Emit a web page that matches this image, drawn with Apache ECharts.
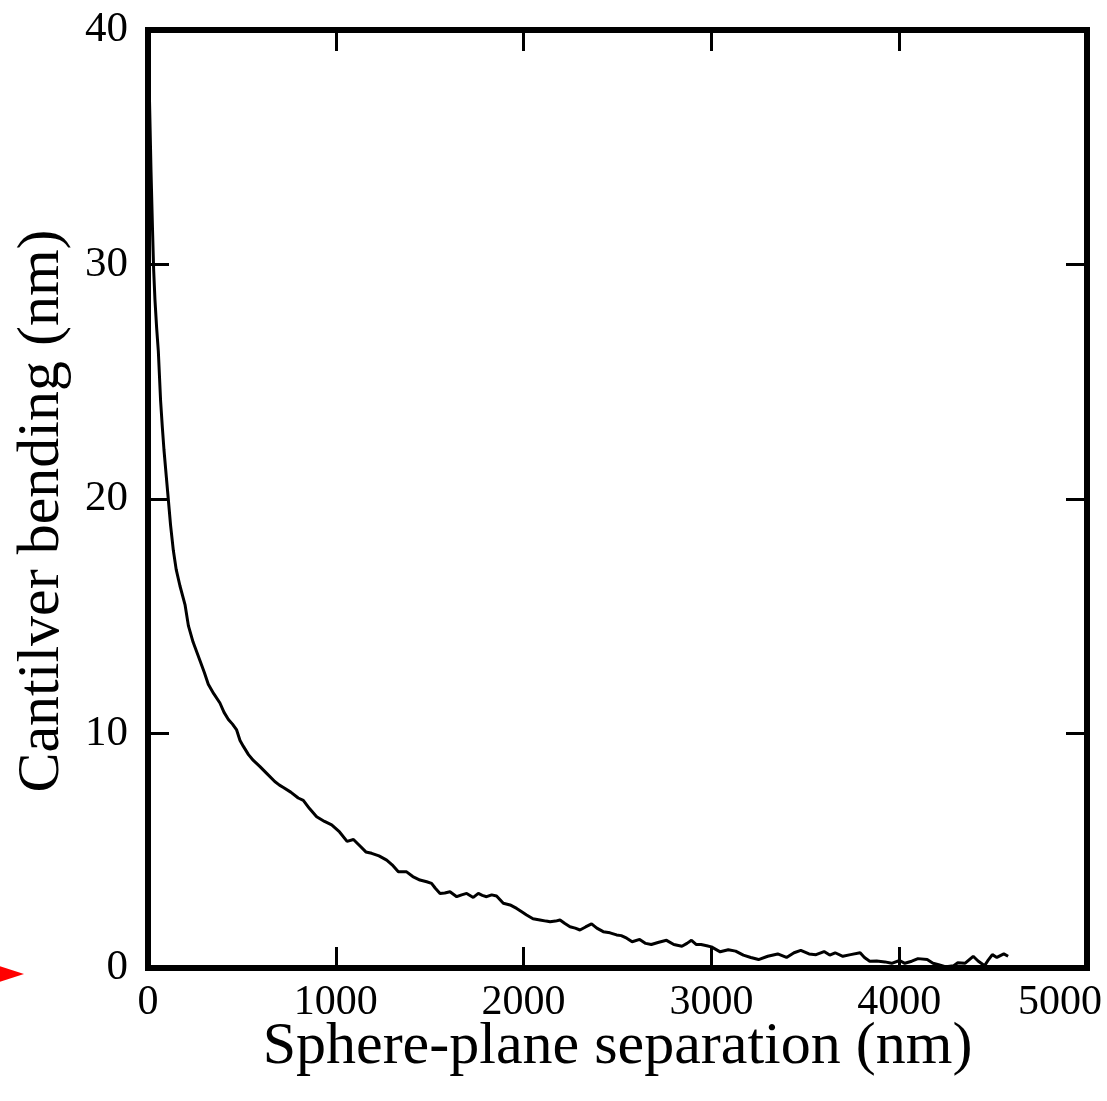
<!DOCTYPE html>
<html>
<head>
<meta charset="utf-8">
<script src="https://cdn.jsdelivr.net/npm/echarts@6/dist/echarts.min.js"></script>
<style>
  html, body { margin: 0; padding: 0; background: #ffffff; }
  #chart { width: 1107px; height: 1101px; }
</style>
</head>
<body>
<div id="chart"></div>
<script>
// Sphere-plane separation (nm)
const separation = [
  0, 8, 16, 24, 30, 37, 46, 55, 67, 76, 85, 97, 108, 120, 135, 150, 170, 197, 215, 240,
  277, 300, 321, 350, 383, 405, 428, 450, 472, 490, 508, 535, 561, 595, 632, 675, 700, 721,
  760, 800, 827, 860, 898, 940, 978, 1020, 1060, 1094, 1129, 1160, 1191, 1230, 1271, 1300,
  1333, 1377, 1410, 1448, 1484, 1510, 1530, 1555, 1580, 1608, 1644, 1670, 1697, 1732, 1759,
  1780, 1803, 1830, 1856, 1892, 1928, 1963, 1990, 2016, 2050, 2087, 2120, 2141, 2170, 2194,
  2220, 2247, 2275, 2300, 2330, 2362, 2390, 2424, 2460, 2495, 2520, 2549, 2578, 2618, 2650,
  2680, 2720, 2761, 2800, 2843, 2870, 2894, 2920, 2945, 2975, 3000, 3047, 3090, 3129, 3170,
  3210, 3251, 3300, 3353, 3400, 3440, 3476, 3520, 3557, 3600, 3630, 3659, 3700, 3741, 3792,
  3815, 3843, 3880, 3924, 3960, 4002, 4030, 4067, 4100, 4149, 4180, 4210, 4250, 4290, 4312,
  4350, 4394, 4420, 4455, 4475, 4496, 4520, 4557, 4580
];
// Cantilever bending (nm)
const bending = [
  40, 37, 34, 31.5, 29.8, 28.5, 27.3, 26.3, 24.2, 23.1, 22.1, 21, 20, 18.9, 17.8, 17.0, 16.3, 15.5, 14.6, 13.9,
  13.1, 12.6, 12.1, 11.7, 11.3, 10.9, 10.6, 10.4, 10.15, 9.7, 9.45, 9.1, 8.85, 8.6, 8.3, 7.95, 7.8, 7.7,
  7.5, 7.25, 7.15, 6.8, 6.45, 6.25, 6.1, 5.8, 5.4, 5.48, 5.2, 4.95, 4.89, 4.78, 4.6, 4.4,
  4.1, 4.1, 3.9, 3.75, 3.68, 3.61, 3.4, 3.18, 3.2, 3.25, 3.04, 3.12, 3.18, 3.01, 3.18,
  3.1, 3.04, 3.12, 3.07, 2.76, 2.69, 2.54, 2.4, 2.26, 2.1, 2.05, 2.0, 1.97, 2.0, 2.05,
  1.9, 1.76, 1.7, 1.62, 1.75, 1.88, 1.7, 1.55, 1.5, 1.41, 1.38, 1.27, 1.12, 1.22, 1.05,
  1.0, 1.1, 1.18, 1.0, 0.93, 1.05, 1.18, 1.0, 1.0, 0.95, 0.9, 0.69, 0.78, 0.72, 0.55,
  0.45, 0.36, 0.5, 0.6, 0.45, 0.65, 0.75, 0.6, 0.57, 0.7, 0.55, 0.65, 0.5, 0.57, 0.65,
  0.45, 0.29, 0.3, 0.26, 0.2, 0.32, 0.2, 0.29, 0.4, 0.36, 0.2, 0.14, 0.05, 0.1, 0.22,
  0.2, 0.5, 0.3, 0.1, 0.35, 0.57, 0.45, 0.6, 0.5
];
const xTicks = [0, 1000, 2000, 3000, 4000, 5000];
const yTicks = [0, 10, 20, 30, 40];

const FONT = '"Liberation Serif", "DejaVu Serif", serif';
const curve = separation.map((x, i) => [x, bending[i]]);
const xMax = xTicks[xTicks.length - 1];

const frameLine = { show: true, onZero: false, lineStyle: { color: '#000', width: 6, cap: 'square' } };
const innerTicks = { show: true, inside: true, length: 21, lineStyle: { color: '#000', width: 3 } };
const plainNumber = v => String(v);
// the last separation label is nudged left so it stays on the page
const xLabel = v => (v === xMax ? '{edge|' + v + '}' : String(v));

const chart = echarts.init(document.getElementById('chart'), null, { renderer: 'canvas' });
chart.setOption({
  backgroundColor: '#ffffff',
  animation: false,
  grid: { left: 148, right: 20, top: 30, bottom: 133, containLabel: false, outerBoundsMode: 'none' },
  xAxis: [
    {
      type: 'value', position: 'bottom',
      min: xTicks[0], max: xMax, interval: 1000,
      axisLine: frameLine, axisTick: innerTicks, splitLine: { show: false },
      axisLabel: {
        color: '#000', fontFamily: FONT, fontSize: 42, margin: 14, formatter: xLabel,
        rich: { edge: { color: '#000', fontFamily: FONT, fontSize: 42, padding: [0, 54, 0, 0] } }
      },
      name: 'Sphere-plane separation (nm)', nameLocation: 'middle', nameGap: 49,
      nameMoveOverlap: false,
      nameTextStyle: { color: '#000', fontFamily: FONT, fontSize: 60 }
    },
    {
      type: 'value', position: 'top',
      min: xTicks[0], max: xMax, interval: 1000,
      axisLine: frameLine, axisTick: innerTicks, splitLine: { show: false },
      axisLabel: { show: false }
    }
  ],
  yAxis: [
    {
      type: 'value', position: 'left',
      min: yTicks[0], max: yTicks[yTicks.length - 1], interval: 10,
      axisLine: frameLine, axisTick: innerTicks, splitLine: { show: false },
      axisLabel: { color: '#000', fontFamily: FONT, fontSize: 43, margin: 20, formatter: plainNumber },
      name: 'Cantilver bending (nm)', nameLocation: 'middle', nameGap: 76,
      nameTextStyle: { color: '#000', fontFamily: FONT, fontSize: 60, padding: [0, 24, 0, 0] }
    },
    {
      type: 'value', position: 'right',
      min: yTicks[0], max: yTicks[yTicks.length - 1], interval: 10,
      axisLine: frameLine, axisTick: innerTicks, splitLine: { show: false },
      axisLabel: { show: false }
    }
  ],
  series: [
    {
      type: 'line',
      data: curve,
      showSymbol: false,
      smooth: false,
      clip: true,
      lineStyle: { color: '#000', width: 3 }
    }
  ]
});

// Red pointer marking the zero level of the bending axis
const zeroY = chart.convertToPixel({ yAxisIndex: 0 }, 0) + 6;
chart.setOption({
  graphic: [{
    type: 'polygon',
    shape: { points: [[-2, zeroY - 8.5], [24, zeroY], [-2, zeroY + 8.5]] },
    style: { fill: '#ff0000' },
    z: 100
  }]
});
</script>
</body>
</html>
